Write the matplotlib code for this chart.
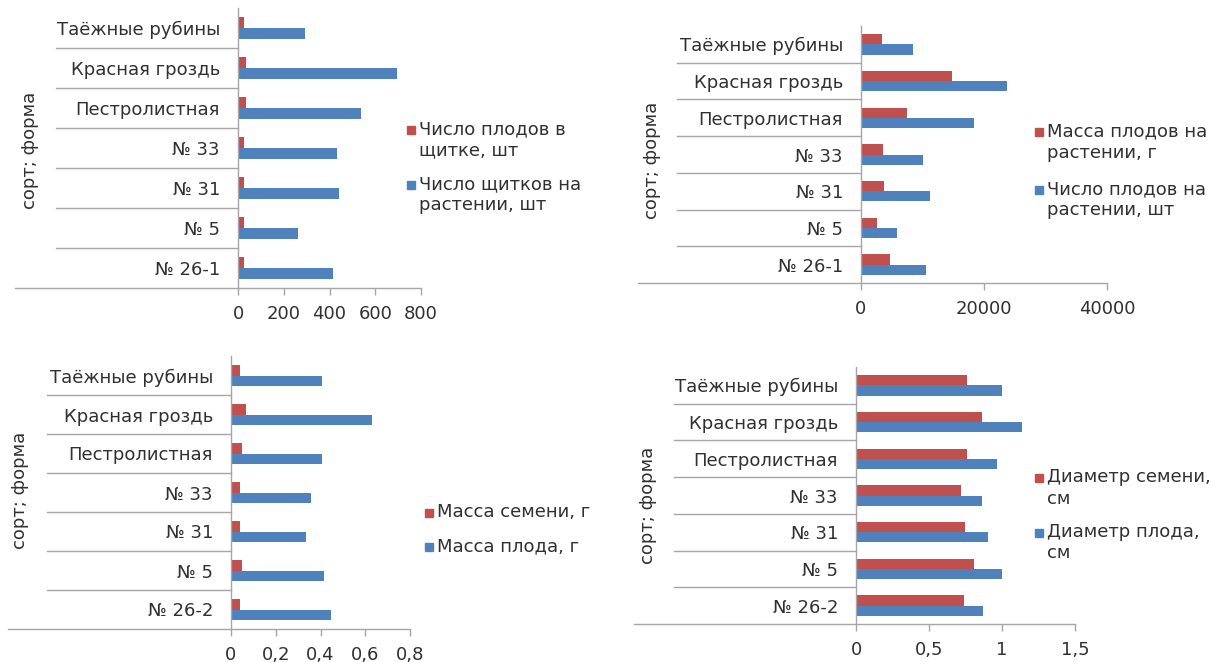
import matplotlib
matplotlib.use("Agg")
import matplotlib.pyplot as plt
from matplotlib.patches import Rectangle
import numpy as np

# categories, bottom -> top
sorts_a = ["№ 26-1", "№ 5", "№ 31", "№ 33", "Пестролистная", "Красная гроздь", "Таёжные рубины"]
sorts_b = ["№ 26-2", "№ 5", "№ 31", "№ 33", "Пестролистная", "Красная гроздь", "Таёжные рубины"]

# panel 1
plodov_v_shitke = [28, 25, 27, 25, 35, 35, 27]
shitkov_na_rast = [415, 263, 443, 432, 539, 694, 293]
# panel 2
massa_plodov_rast = [4650, 2550, 3820, 3500, 7450, 14780, 3380]
chislo_plodov_rast = [10570, 5860, 11150, 10060, 18300, 23800, 8400]
# panel 3
massa_semeni = [0.038, 0.048, 0.038, 0.038, 0.048, 0.068, 0.038]
massa_ploda = [0.449, 0.416, 0.336, 0.357, 0.408, 0.63, 0.408]
# panel 4
diam_semeni = [0.74, 0.805, 0.746, 0.72, 0.757, 0.866, 0.757]
diam_ploda = [0.87, 1.0, 0.906, 0.86, 0.968, 1.14, 1.0]

ticks1 = [0, 200, 400, 600, 800]
ticks2 = [0, 20000, 40000]
ticks3 = [0, 0.2, 0.4, 0.6, 0.8]
ticks4 = [0, 0.5, 1, 1.5]

RED = "#C0504D"
BLUE = "#4F81BD"
GREY = "#A6A6A6"
TXT = "#303030"
W, H = 1213, 662
FS = 13

fig = plt.figure(figsize=(W / 100, H / 100), dpi=100)
fig.patch.set_facecolor("white")


def px_box(x0, x1, top, bot):
    return [x0 / W, 1 - bot / H, (x1 - x0) / W, (bot - top) / H]


def panel(box, cats, red, blue, ticks, sep_left, axis_left, ylab_xy, leg_x, leg_entries):
    x0, x1, top, bot = box
    ax = fig.add_axes(px_box(x0, x1, top, bot))
    y = np.arange(len(cats))
    h = 0.28
    ax.barh(y + h / 2, red, height=h, color=RED)
    ax.barh(y - h / 2, blue, height=h, color=BLUE)
    ax.set_xlim(0, ticks[-1])
    ax.set_ylim(-0.5, len(cats) - 0.5)
    for s in ["top", "right", "bottom"]:
        ax.spines[s].set_visible(False)
    ax.spines["left"].set_color(GREY)
    ax.spines["left"].set_linewidth(1)
    ax.set_yticks(y)
    ax.set_yticklabels(cats, fontsize=FS, color=TXT)
    ax.tick_params(axis="y", length=0, pad=13)
    ax.set_xticks(ticks)
    ax.set_xticklabels([("%g" % t).replace(".", ",") for t in ticks], fontsize=FS, color=TXT)
    ax.tick_params(axis="x", length=5, width=1, color=GREY, pad=7)
    # separators between categories, extending into label area
    sl = (sep_left - x0) / (x1 - x0)
    for k in range(len(cats) - 1):
        ax.plot([sl, 0], [k + 0.5, k + 0.5], transform=ax.get_yaxis_transform(),
                color=GREY, lw=1, clip_on=False)
    al = (axis_left - x0) / (x1 - x0)
    ax.plot([al, 1], [0, 0], transform=ax.transAxes, color=GREY, lw=1, clip_on=False)
    fig.text(ylab_xy[0] / W, 1 - ylab_xy[1] / H, "сорт; форма", rotation=90,
             ha="center", va="center", fontsize=FS, color=TXT)
    for (ly, label), col in zip(leg_entries, [RED, BLUE]):
        fig.patches.append(Rectangle(((leg_x - 4) / W, 1 - (ly + 4) / H), 8 / W, 8 / H,
                                     transform=fig.transFigure, color=col))
        fig.text((leg_x + 8) / W, 1 - (ly - 10) / H, label, ha="left", va="top",
                 fontsize=FS, color=TXT, linespacing=1.25)
    return ax


panel((238, 421, 8, 288), sorts_a, plodov_v_shitke, shitkov_na_rast, ticks1, 56, 15, (30, 150), 411,
      [(130, "Число плодов в\nщитке, шт"), (185, "Число щитков на\nрастении, шт")])
panel((861, 1107, 26, 283), sorts_a, massa_plodov_rast, chislo_plodov_rast, ticks2, 677, 638, (652, 160), 1039,
      [(132, "Масса плодов на\nрастении, г"), (190, "Число плодов на\nрастении, шт")])
panel((231, 410, 356, 629), sorts_b, massa_semeni, massa_ploda, ticks3, 47, 8, (20, 490), 429,
      [(513, "Масса семени, г"), (547, "Масса плода, г")])
panel((856, 1075, 367, 624), sorts_b, diam_semeni, diam_ploda, ticks4, 674, 634, (648, 505), 1039,
      [(478, "Диаметр семени,\nсм"), (533, "Диаметр плода,\nсм")])

fig.savefig("out.png", dpi=100, facecolor="white")
